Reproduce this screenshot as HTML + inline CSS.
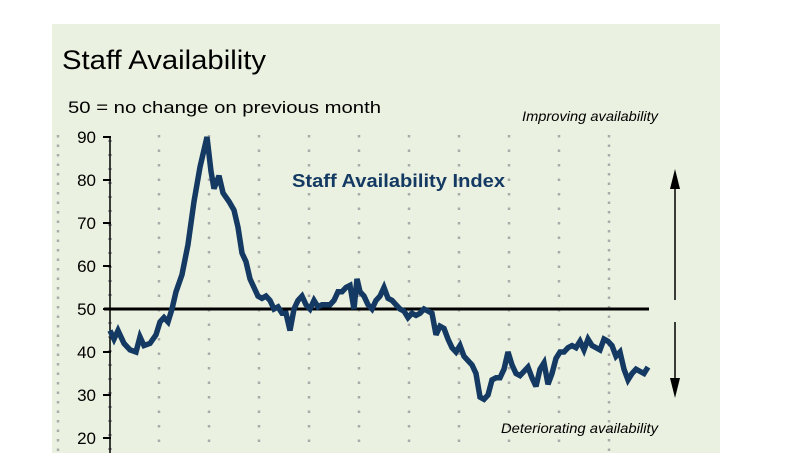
<!DOCTYPE html>
<html><head><meta charset="utf-8"><style>
body{margin:0;background:#fff;width:807px;height:453px;overflow:hidden}
svg{display:block}
</style></head><body>
<svg id="s" width="807" height="453" xmlns="http://www.w3.org/2000/svg" font-family="Liberation Sans, sans-serif">
<rect x="52" y="24" width="668" height="429" fill="#ebf1e0"/>
<g id="grid"></g>
<text x="62" y="69" font-size="27" fill="#000" textLength="204" lengthAdjust="spacingAndGlyphs">Staff Availability</text>
<text x="68" y="113" font-size="17" fill="#000" textLength="313" lengthAdjust="spacingAndGlyphs">50 =  no change on previous month</text>
<text x="292" y="187" font-size="18" font-weight="bold" fill="#143a63" textLength="213" lengthAdjust="spacingAndGlyphs">Staff Availability Index</text>
<text x="522" y="121" font-size="14" font-style="italic" fill="#000" textLength="136" lengthAdjust="spacingAndGlyphs">Improving availability</text>
<text x="501" y="433" font-size="14" font-style="italic" fill="#000" textLength="157" lengthAdjust="spacingAndGlyphs">Deteriorating availability</text>
<g font-size="17" fill="#000" text-anchor="end">
<text x="96" y="143">90</text><text x="96" y="186">80</text><text x="96" y="229">70</text><text x="96" y="272">60</text><text x="96" y="315">50</text><text x="96" y="358">40</text><text x="96" y="401">30</text><text x="96" y="444">20</text>
</g>
<line x1="110" y1="137" x2="110" y2="453" stroke="#000" stroke-width="1.5"/>
<g id="ticks" stroke="#000" stroke-width="2"></g>
<line x1="104" y1="309" x2="649" y2="309" stroke="#000" stroke-width="3"/>
<polyline id="ln" fill="none" stroke="#143a63" stroke-width="5.5" stroke-linejoin="miter" stroke-miterlimit="3"/>
<line x1="675" y1="300" x2="675" y2="185" stroke="#000" stroke-width="1.5"/>
<polygon points="675,169 670,189 680,189" fill="#000"/>
<line x1="675" y1="322" x2="675" y2="380" stroke="#000" stroke-width="1.5"/>
<polygon points="675,398 670,378 680,378" fill="#000"/>
</svg>
<script>
var ns="http://www.w3.org/2000/svg",g=document.getElementById('grid'),t=document.getElementById('ticks');
function el(p,n,a){var e=document.createElementNS(ns,n);for(var k in a)e.setAttribute(k,a[k]);p.appendChild(e);}
[58,159,209,259,309,359,409,459,509,559,609].forEach(function(x){var d=(x==58||x==609);
 el(g,'line',{x1:x,y1:135,x2:x,y2:453,stroke:'#aaa','stroke-width':2.5,'stroke-dasharray':d?'2.5 7':'2.5 12'});});
el(g,'line',{x1:110,y1:140,x2:110,y2:453,stroke:'#aaa','stroke-width':4,'stroke-dasharray':'2 12'});
for(var v=20;v<=90;v+=10){var y=309-(v-50)*4.3;el(t,'line',{x1:103,y1:y,x2:111,y2:y});}
var d=[110,45,114,43,118,45,124,42,130,40.5,136,40,140,43.5,144,41.5,150,42,156,44,160,47,164,48,168,47,172,50,176,54,182,58,188,65,194,75,200,83,207,90,211,82,214,78,219,81,223,77,229,75,234,73,238,69,242,63,246,61,250,57,254,55,258,53,262,52.5,266,53,270,52,274,50,278,50.5,282,49,286,49,290,45,294,50,298,52,302,53,306,51,310,50,314,52,318,50.5,322,51,326,51,330,51,334,52,338,54,342,54,346,55,350,55.5,354,50,357,57,360,54,364,53,368,51,372,50,376,52,380,53,384,55,388,52.5,392,52,396,51,400,50,404,49.5,408,48,412,49,416,48.5,420,49,424,50,428,49.5,432,49,436,44,440,46,444,45.5,448,43,452,41,456,40,460,41.5,464,39,468,38,472,37,476,35,480,29.5,484,29,488,30,492,33.5,496,34,500,34,504,36,508,40,512,37,516,35,520,34.5,524,35.5,528,36.5,532,34,536,32,540,36,544,37.5,548,32.5,552,35,556,38.5,560,40,564,40,568,41,572,41.5,576,41,580,42.5,584,40.5,588,43,592,41.5,596,41,600,40.5,604,43,608,42.5,612,41.5,616,39,620,40,624,36,628,33.5,632,35,636,36,640,35.5,644,35,648,36.5];
var p=[];for(var i=0;i<d.length;i+=2)p.push(d[i]+','+(309-(d[i+1]-50)*4.3).toFixed(1));
document.getElementById('ln').setAttribute('points',p.join(' '));
</script>
</body></html>
